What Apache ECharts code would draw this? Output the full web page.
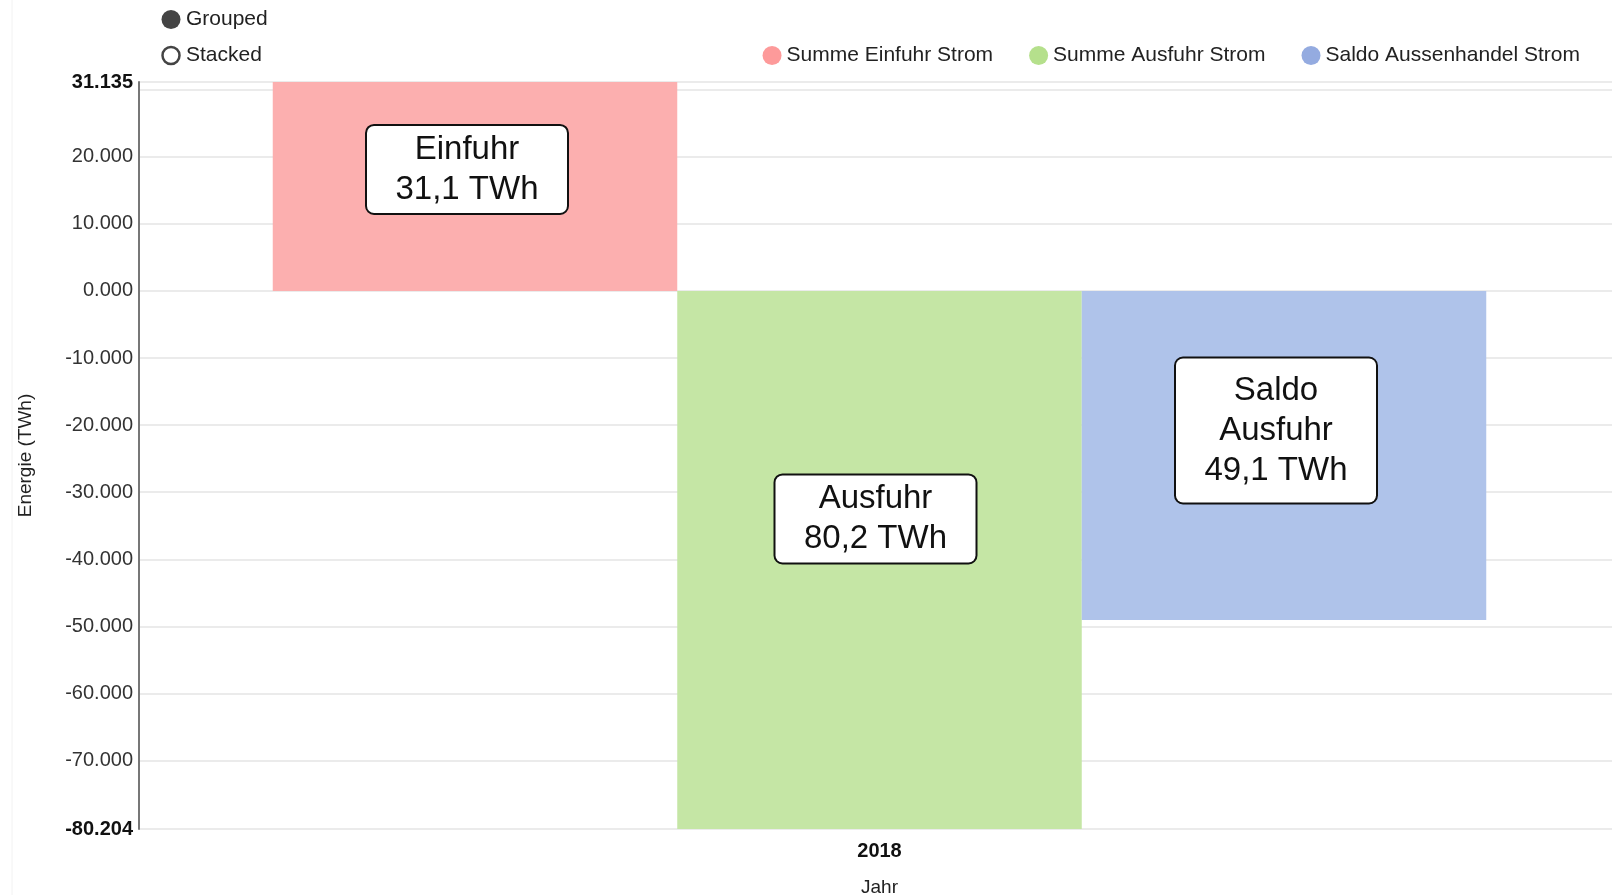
<!DOCTYPE html>
<html>
<head>
<meta charset="utf-8">
<script src="https://cdn.jsdelivr.net/npm/echarts@6/dist/echarts.min.js"></script>
<style>
  html, body { margin: 0; padding: 0; background: #fff; }
  #chart { width: 1612px; height: 895px; }
</style>
</head>
<body>
<div id="chart"></div>
<script>
// Daten (TWh)
const categories = ['2018'];
const einfuhr = [31.135];
const ausfuhr = [-80.204];
const saldo = [-49.069];
const yMin = -80.204;
const yMax = 31.135;
const yTicks = [-80.204, -70, -60, -50, -40, -30, -20, -10, 0, 10, 20, 30, 31.135];
const yLabels = [-80.204, -70, -60, -50, -40, -30, -20, -10, 0, 10, 20, 31.135];
const seriesNames = ['Summe Einfuhr Strom', 'Summe Ausfuhr Strom', 'Saldo Aussenhandel Strom'];

const FONT = '"Liberation Sans", Arial, sans-serif';
const chart = echarts.init(document.getElementById('chart'));

// Beschriftungs-Box
const boxLabel = (text, offset, padding) => ({
  show: true,
  position: 'inside',
  offset,
  formatter: text,
  color: '#111',
  fontFamily: FONT,
  fontSize: 33,
  lineHeight: 40,
  width: 200,
  align: 'center',
  backgroundColor: '#fff',
  borderColor: '#111',
  borderWidth: 2,
  borderRadius: 7,
  padding
});

chart.setOption({
  animation: false,
  textStyle: { fontFamily: FONT },
  legend: {
    top: 40,
    right: 27,
    icon: 'circle',
    itemWidth: 19,
    itemHeight: 19,
    itemGap: 36,
    textStyle: { fontSize: 21, color: '#222', fontFamily: FONT },
    data: [
      { name: seriesNames[0], itemStyle: { color: '#fd9a9a' } },
      { name: seriesNames[1], itemStyle: { color: '#b5e08c' } },
      { name: seriesNames[2], itemStyle: { color: '#94abe0' } }
    ]
  },
  graphic: [
    { type: 'line', shape: { x1: 12, y1: 0, x2: 12, y2: 895 }, style: { stroke: '#f2f2f2', lineWidth: 1 } },
    { type: 'circle', shape: { cx: 171, cy: 19.5, r: 9.5 }, style: { fill: '#444' } },
    { type: 'text', left: 186, top: 9, style: { text: 'Grouped', font: '21px ' + FONT, fill: '#222' } },
    { type: 'circle', shape: { cx: 171, cy: 55.5, r: 8.5 }, style: { fill: '#fff', stroke: '#444', lineWidth: 2.5 } },
    { type: 'text', left: 186, top: 45, style: { text: 'Stacked', font: '21px ' + FONT, fill: '#222' } }
  ],
  grid: { left: 139, top: 82, width: 1481, height: 747, outerBoundsMode: 'none', containLabel: false },
  xAxis: {
    type: 'category',
    data: categories,
    axisLine: { show: false, onZero: false },
    axisTick: { show: false },
    axisLabel: { margin: 12, fontSize: 20, fontWeight: 'bold', color: '#111' },
    name: 'Jahr',
    nameLocation: 'middle',
    nameGap: 49,
    nameTextStyle: { fontSize: 19, color: '#222' }
  },
  yAxis: {
    type: 'value',
    min: yMin,
    max: yMax,
    axisLine: { show: true, lineStyle: { color: '#777', width: 2 } },
    axisTick: { show: false, customValues: yTicks },
    splitLine: { show: true, lineStyle: { color: '#e4e4e4', width: 1.5 } },
    axisLabel: {
      customValues: yLabels,
      margin: 6,
      fontSize: 20,
      color: '#333',
      formatter: v => {
        const s = Number(v).toFixed(3);
        return (v === yMin || v === yMax) ? '{b|' + s + '}' : s;
      },
      rich: { b: { fontSize: 20, fontWeight: 'bold', color: '#111' } }
    },
    name: 'Energie (TWh)',
    nameLocation: 'middle',
    nameGap: 104,
    nameTextStyle: { fontSize: 19, color: '#222' }
  },
  series: [
    {
      name: seriesNames[0], type: 'bar', data: einfuhr, barWidth: 404.5, barGap: '0%',
      itemStyle: { color: '#fcafaf' },
      label: boxLabel('Einfuhr\n31,1 TWh', [-8, -17], [4, 0, 3, 0])
    },
    {
      name: seriesNames[1], type: 'bar', data: ausfuhr, barWidth: 404.5, barGap: '0%',
      itemStyle: { color: '#c5e6a5' },
      label: boxLabel('Ausfuhr\n80,2 TWh', [-4, -41], [4, 0, 3, 0])
    },
    {
      name: seriesNames[2], type: 'bar', data: saldo, barWidth: 404.5, barGap: '0%',
      itemStyle: { color: '#afc3ea' },
      label: boxLabel('Saldo\nAusfuhr\n49,1 TWh', [-8, -25], [10, 0, 14, 0])
    }
  ]
});
</script>
</body>
</html>
